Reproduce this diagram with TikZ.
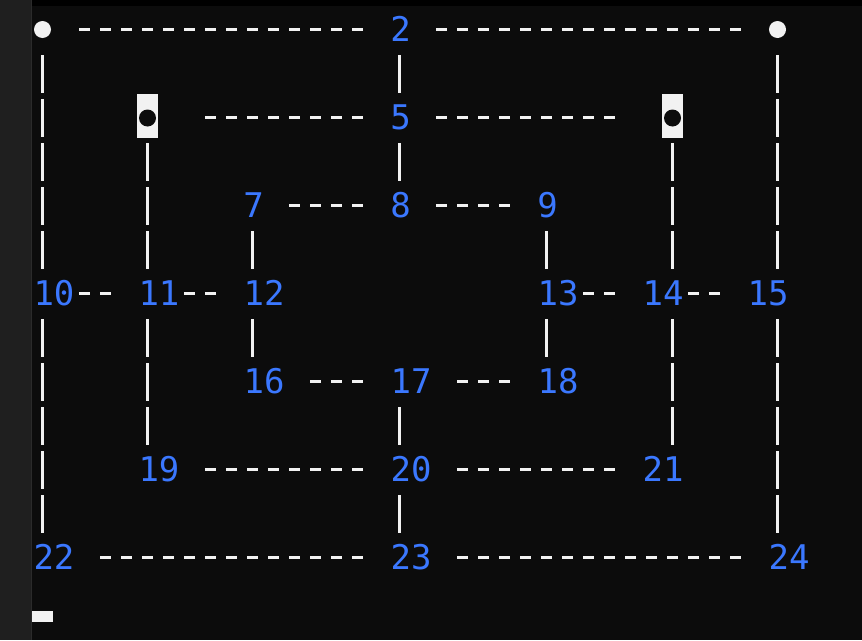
\documentclass[tikz,border=0pt]{standalone}
\usepackage{fontspec}
\setmonofont{DejaVu Sans Mono}
\usetikzlibrary{calc}
\definecolor{termbg}{HTML}{0C0C0C}
\definecolor{sidebar}{HTML}{1F1F1F}
\definecolor{sideline}{HTML}{2B2B2B}
\definecolor{termblue}{HTML}{3B78FF}
\definecolor{termwhite}{HTML}{F2F2F2}
\tikzset{
  num/.style={inner sep=0pt, text=termblue, font=\ttfamily\fontsize{34}{40}\selectfont, text height=24pt, text depth=0pt},
  whitepiece/.style={circle, fill=termwhite, draw=none, minimum size=17pt, inner sep=0pt},
  blackpiece/.style={rectangle, fill=termwhite, draw=none, minimum width=21pt, minimum height=44pt, inner sep=0pt},
  blackdot/.style={circle, fill=termbg, draw=none, minimum size=17pt, inner sep=0pt},
  hd/.style={draw=termwhite, line width=3pt, dash pattern=on 11pt off 10pt},
  vd/.style={draw=termwhite, line width=3pt, dash pattern=on 38pt off 6pt}
}
\begin{document}
\begin{tikzpicture}[x=1pt, y=-1pt]
\useasboundingbox (0,0) rectangle (862,640);
\fill[termbg] (0,0) rectangle (862,640);
\fill[black] (32,0) rectangle (862,6);
\fill[sidebar] (0,0) rectangle (31,640);
\fill[sideline] (31,0) rectangle (32,640);
% cursor
\fill[termwhite] (32,611) rectangle (53,622);

% pieces
\node[whitepiece] (n1) at (42.5,29.5) {};
\node[whitepiece] (n3) at (777.5,29.5) {};
\node[blackpiece] (n4) at (147.5,116) {};
\node[blackdot] (d4) at (147.5,118) {};
\node[blackpiece] (n6) at (672.5,116) {};
\node[blackdot] (d6) at (672.5,118) {};

% numbers
\node[num] (n2) at (400.5,29.5) {2};
\node[num] (n5) at (400.5,117.5) {5};
\node[num] (n7) at (253.5,205.5) {7};
\node[num] (n8) at (400.5,205.5) {8};
\node[num] (n9) at (547.5,205.5) {9};
\node[num] (n10) at (54,293.5) {10};
\node[num] (n11) at (159,293.5) {11};
\node[num] (n12) at (264,293.5) {12};
\node[num] (n13) at (558,293.5) {13};
\node[num] (n14) at (663,293.5) {14};
\node[num] (n15) at (768,293.5) {15};
\node[num] (n16) at (264,381.5) {16};
\node[num] (n17) at (411,381.5) {17};
\node[num] (n18) at (558,381.5) {18};
\node[num] (n19) at (159,469.5) {19};
\node[num] (n20) at (411,469.5) {20};
\node[num] (n21) at (663,469.5) {21};
\node[num] (n22) at (54,557.5) {22};
\node[num] (n23) at (411,557.5) {23};
\node[num] (n24) at (789,557.5) {24};

% horizontal connectors
\draw[hd] ($(n1.center)+(36.5,0)$) -- ($(n2.center)+(-37.5,0)$);
\draw[hd] ($(n2.center)+(35.5,0)$) -- ($(n3.center)+(-36.5,0)$);
\draw[hd] ($(n4.center)+(57.5,1.5)$) -- ($(n5.center)+(-37.5,0)$);
\draw[hd] ($(n5.center)+(35.5,0)$) -- ($(n6.center)+(-57.5,1.5)$);
\draw[hd] ($(n7.center)+(35.5,0)$) -- ($(n8.center)+(-37.5,0)$);
\draw[hd] ($(n8.center)+(35.5,0)$) -- ($(n9.center)+(-37.5,0)$);
\draw[hd] ($(n10.center)+(25,0)$) -- ($(n11.center)+(-48,0)$);
\draw[hd] ($(n11.center)+(25,0)$) -- ($(n12.center)+(-48,0)$);
\draw[hd] ($(n13.center)+(25,0)$) -- ($(n14.center)+(-48,0)$);
\draw[hd] ($(n14.center)+(25,0)$) -- ($(n15.center)+(-48,0)$);
\draw[hd] ($(n16.center)+(46,0)$) -- ($(n17.center)+(-48,0)$);
\draw[hd] ($(n17.center)+(46,0)$) -- ($(n18.center)+(-48,0)$);
\draw[hd] ($(n19.center)+(46,0)$) -- ($(n20.center)+(-48,0)$);
\draw[hd] ($(n20.center)+(46,0)$) -- ($(n21.center)+(-48,0)$);
\draw[hd] ($(n22.center)+(46,0)$) -- ($(n23.center)+(-48,0)$);
\draw[hd] ($(n23.center)+(46,0)$) -- ($(n24.center)+(-48,0)$);

% vertical connectors
\draw[vd] ($(n1.center)+(0,25.5)$) -- ($(n10.center)+(-11.5,-24.5)$);
\draw[vd] ($(n10.center)+(-11.5,25.5)$) -- ($(n22.center)+(-11.5,-24.5)$);
\draw[vd] ($(n2.center)+(-1,25.5)$) -- ($(n5.center)+(-1,-24.5)$);
\draw[vd] ($(n5.center)+(-1,25.5)$) -- ($(n8.center)+(-1,-24.5)$);
\draw[vd] ($(n17.center)+(-11.5,25.5)$) -- ($(n20.center)+(-11.5,-24.5)$);
\draw[vd] ($(n20.center)+(-11.5,25.5)$) -- ($(n23.center)+(-11.5,-24.5)$);
\draw[vd] ($(n3.center)+(0,25.5)$) -- ($(n15.center)+(9.5,-24.5)$);
\draw[vd] ($(n15.center)+(9.5,25.5)$) -- ($(n24.center)+(-11.5,-24.5)$);
\draw[vd] ($(n4.south)+(0,5)$) -- ($(n11.center)+(-11.5,-24.5)$);
\draw[vd] ($(n11.center)+(-11.5,25.5)$) -- ($(n19.center)+(-11.5,-24.5)$);
\draw[vd] ($(n6.south)+(0,5)$) -- ($(n14.center)+(9.5,-24.5)$);
\draw[vd] ($(n14.center)+(9.5,25.5)$) -- ($(n21.center)+(9.5,-24.5)$);
\draw[vd] ($(n7.center)+(-1,25.5)$) -- ($(n12.center)+(-11.5,-24.5)$);
\draw[vd] ($(n12.center)+(-11.5,25.5)$) -- ($(n16.center)+(-11.5,-24.5)$);
\draw[vd] ($(n9.center)+(-1,25.5)$) -- ($(n13.center)+(-11.5,-24.5)$);
\draw[vd] ($(n13.center)+(-11.5,25.5)$) -- ($(n18.center)+(-11.5,-24.5)$);
\end{tikzpicture}
\end{document}
